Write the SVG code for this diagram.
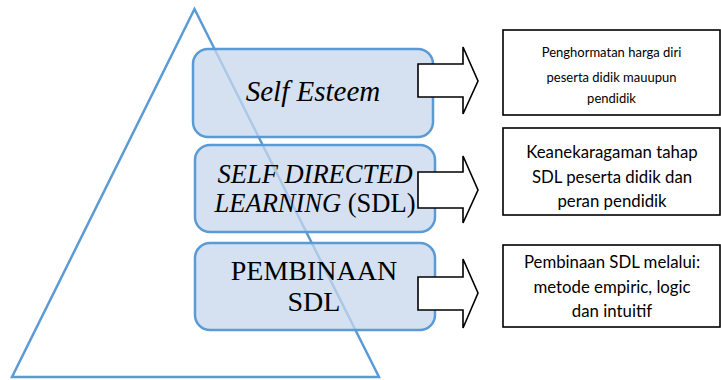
<svg xmlns="http://www.w3.org/2000/svg" width="721" height="380" viewBox="0 0 721 380">
  <style>
    .tri { fill: none; stroke: #5B9BD5; stroke-width: 2.5; }
    .level rect { fill: #C7D7EB; fill-opacity: 0.75; stroke: #5B9BD5; stroke-width: 2.5; }
    .level text { font-family: "Liberation Serif", "Times New Roman", serif; fill: #000; text-anchor: middle; }
    .arrow { fill: #fff; stroke: #000; stroke-width: 1.6; stroke-linejoin: miter; }
    .note rect { fill: #fff; stroke: #000; stroke-width: 1.6; }
    .note text { font-family: Lato, "Open Sans", "Liberation Sans", sans-serif; fill: #000; text-anchor: middle; }
  </style>

  <!-- pyramid outline -->
  <polygon id="pyramid" class="tri" points="194.5,9 12,377 379,377"/>

  <!-- levels of the pyramid -->
  <g id="level-self-esteem" class="level">
    <rect x="193" y="49" width="240" height="88" rx="15" ry="15"/>
    <text x="313" y="101" font-size="29" font-style="italic">Self Esteem</text>
  </g>
  <g id="level-sdl" class="level">
    <rect x="195" y="145" width="240" height="87" rx="15" ry="15"/>
    <text x="315" y="183" font-size="26.5" font-style="italic">SELF DIRECTED</text>
    <text x="315" y="212" font-size="26.5"><tspan font-style="italic">LEARNING</tspan> (SDL)</text>
  </g>
  <g id="level-pembinaan" class="level">
    <rect x="195" y="243" width="240" height="87" rx="15" ry="15"/>
    <text x="314" y="280" font-size="28">PEMBINAAN</text>
    <text x="314" y="311" font-size="28">SDL</text>
  </g>

  <!-- block arrows linking each level to its description -->
  <g id="connectors">
    <polygon class="arrow" points="418,64 463,64 463,47 478,81 463,114 463,97 418,97"/>
    <polygon class="arrow" points="418,172 463,172 463,156 478,190 463,223 463,208 418,208"/>
    <polygon class="arrow" points="418,277 463,277 463,259 478,293 463,328 463,310 418,310"/>
  </g>

  <!-- descriptions -->
  <g id="note-self-esteem" class="note">
    <rect x="503" y="30" width="217" height="85"/>
    <text x="611.5" y="57" font-size="13">Penghormatan harga diri</text>
    <text x="611.5" y="82" font-size="13">peserta didik mauupun</text>
    <text x="611.5" y="103" font-size="13">pendidik</text>
  </g>
  <g id="note-sdl" class="note">
    <rect x="503" y="128" width="217" height="87"/>
    <text x="612" y="158" font-size="16.8">Keanekaragaman tahap</text>
    <text x="612" y="183" font-size="16.8">SDL peserta didik dan</text>
    <text x="612" y="207" font-size="16.8">peran pendidik</text>
  </g>
  <g id="note-pembinaan" class="note">
    <rect x="503" y="245" width="217" height="82"/>
    <text x="612" y="268" font-size="16.8">Pembinaan SDL melalui:</text>
    <text x="612" y="293" font-size="16.8">metode empiric, logic</text>
    <text x="612" y="317" font-size="16.8">dan intuitif</text>
  </g>
</svg>
